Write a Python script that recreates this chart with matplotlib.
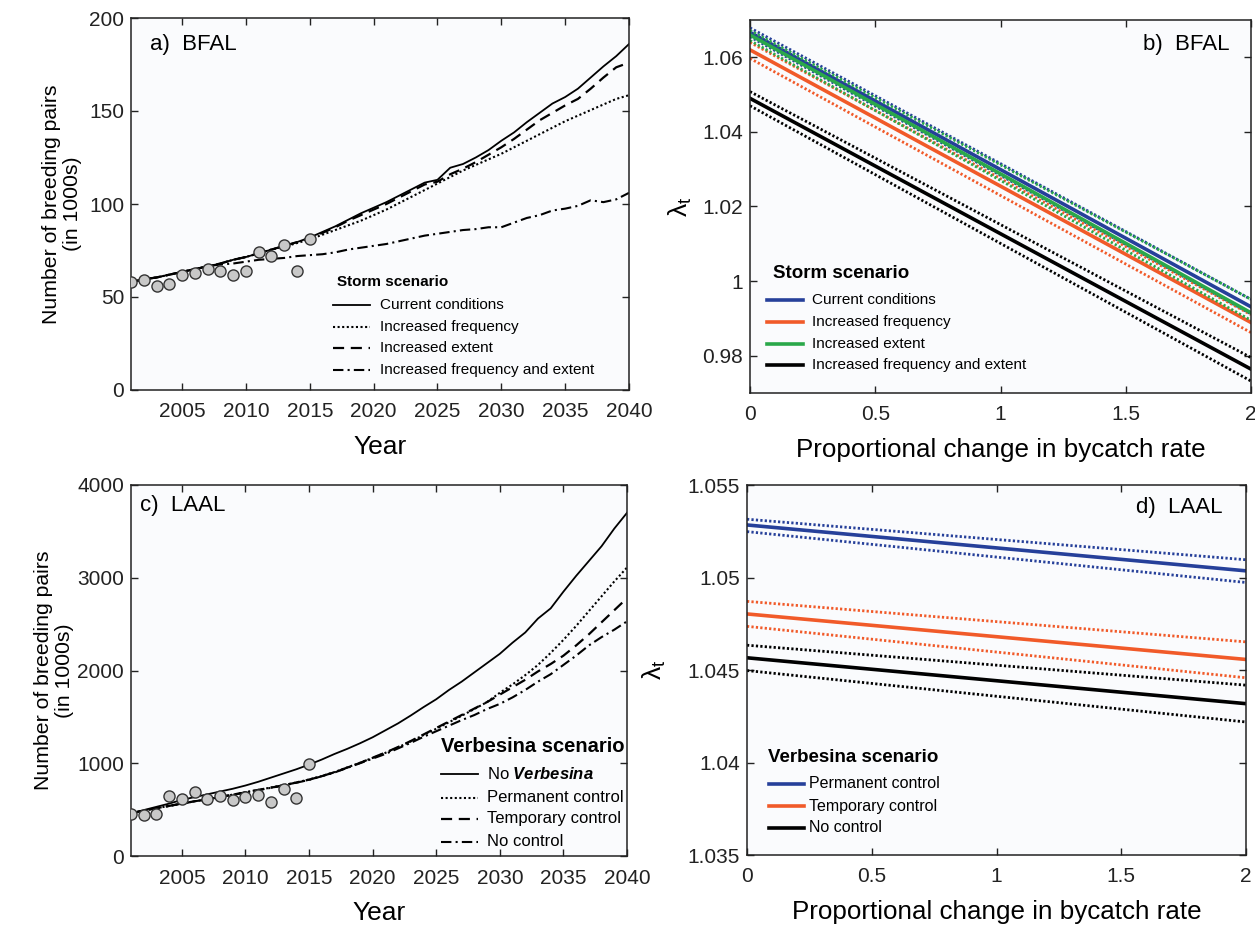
import numpy as np
import matplotlib
matplotlib.use("Agg")
import matplotlib.pyplot as plt
from matplotlib.ticker import FuncFormatter
from matplotlib.lines import Line2D

plt.rcParams['font.family'] = ['Liberation Sans', 'DejaVu Sans']
plt.rcParams['mathtext.fontset'] = 'custom'
plt.rcParams['mathtext.rm'] = 'Liberation Sans'
plt.rcParams['mathtext.it'] = 'Liberation Sans:italic'
plt.rcParams['mathtext.bf'] = 'Liberation Sans:bold'
plt.rcParams['mathtext.bfit'] = 'Liberation Sans:italic:bold'

# ---------------- data ----------------
years = list(range(2001, 2041))
obs_years = list(range(2001, 2016))

# Panel a: BFAL breeding pairs (1000s)
bfal_obs = [58, 59, 56, 57, 62, 63, 65, 64, 62, 64, 74, 72, 78, 64, 81]
bfal_current = [58, 59.5, 60.5, 62, 63.5, 65, 66.5, 68, 70, 71.5, 73.5, 75.5, 77.5, 79.5, 82,
                85, 88, 91.5, 95, 98, 101, 104.5, 108, 111.5, 113, 119.5, 121.5, 125, 129, 134,
                138.5, 144, 149, 154, 157.5, 162, 168, 174, 179.5, 186]
bfal_freq = [58, 59.5, 60.5, 62, 63.5, 65, 66.5, 68, 70, 71.5, 73.5, 75.5, 77, 79, 81,
             83.5, 86, 88.5, 91, 94, 97, 100.5, 104, 107.5, 111, 114.5, 118, 121, 124, 127,
             130.5, 134, 137.5, 141, 144.5, 147.5, 150.5, 153.5, 156.5, 158.5]
bfal_extent = [58, 59.5, 60.5, 62, 63.5, 65, 66.5, 68, 70, 71.5, 73.5, 75.5, 77.5, 79.5, 81.5,
               84.5, 87.5, 91, 94, 97, 100, 103.5, 107, 110.5, 112, 116, 119, 122.5, 126.5, 130.5,
               135, 140, 145, 149, 153, 156.5, 162, 168, 173.5, 176]
bfal_freq_ext = [58, 59.5, 60.5, 62, 63.5, 65, 66.5, 67.5, 68, 69, 70, 70.5, 71, 72, 72.5,
                 73, 74, 75.5, 76.5, 77.5, 78.5, 80, 81.5, 83, 84, 85, 86, 86.5, 87.5, 87.5,
                 90, 92.5, 94, 96.5, 97.5, 99, 102, 101, 102.5, 106]

# Panel c: LAAL breeding pairs (1000s)
laal_obs = [455, 441, 455, 642, 610, 685, 610, 648, 602, 634, 663, 584, 717, 620, 997]
laal_noverb = [460, 495, 530, 565, 605, 635, 665, 695, 725, 760, 800, 845, 890, 935, 985,
               1040, 1100, 1155, 1215, 1280, 1355, 1430, 1515, 1605, 1690, 1790, 1880, 1980, 2080, 2180,
               2300, 2410, 2560, 2670, 2850, 3020, 3180, 3340, 3530, 3700]
laal_perm = [460, 490, 515, 540, 565, 590, 612, 637, 662, 688, 713, 738, 764, 793, 825,
             862, 905, 955, 1005, 1058, 1112, 1172, 1236, 1304, 1372, 1442, 1512, 1585, 1660, 1760,
             1850, 1950, 2060, 2190, 2330, 2480, 2640, 2800, 2960, 3110]
laal_temp = [460, 490, 515, 540, 565, 590, 611, 636, 661, 686, 712, 737, 762, 792, 823,
             861, 903, 953, 1003, 1060, 1115, 1175, 1240, 1310, 1380, 1450, 1520, 1590, 1660, 1740,
             1820, 1900, 1990, 2070, 2160, 2270, 2390, 2520, 2650, 2780]
laal_noctrl = [460, 490, 515, 540, 565, 590, 610, 635, 660, 685, 710, 735, 760, 790, 820,
               860, 900, 950, 1000, 1050, 1100, 1160, 1220, 1285, 1345, 1405, 1465, 1520, 1585, 1640,
               1710, 1790, 1880, 1960, 2060, 2160, 2270, 2360, 2440, 2530]

# Panels b, d: lambda_t vs proportional change in bycatch rate (values at x = 0 and x = 2)
bycatch_x = [0, 2]
# BFAL: mean, lower CI, upper CI
bfal_lam_current = [1.0667, 0.9931]
bfal_lam_current_lo = [1.0655, 0.9912]
bfal_lam_current_hi = [1.0679, 0.9951]
bfal_lam_freq = [1.0620, 0.9889]
bfal_lam_freq_lo = [1.0597, 0.9862]
bfal_lam_freq_hi = [1.0640, 0.9910]
bfal_lam_extent = [1.0660, 0.9915]
bfal_lam_extent_lo = [1.0645, 0.9895]
bfal_lam_extent_hi = [1.0672, 0.9951]
bfal_lam_freq_ext = [1.0490, 0.9764]
bfal_lam_freq_ext_lo = [1.0470, 0.9732]
bfal_lam_freq_ext_hi = [1.0508, 0.9795]
# LAAL
laal_lam_perm = [1.05284, 1.05036]
laal_lam_perm_lo = [1.05248, 1.04973]
laal_lam_perm_hi = [1.05315, 1.05096]
laal_lam_temp = [1.04803, 1.04557]
laal_lam_temp_lo = [1.04736, 1.04458]
laal_lam_temp_hi = [1.04871, 1.04652]
laal_lam_noctrl = [1.04566, 1.04318]
laal_lam_noctrl_lo = [1.04497, 1.04219]
laal_lam_noctrl_hi = [1.04634, 1.04418]

storm_labels = ['Current conditions', 'Increased frequency', 'Increased extent',
                'Increased frequency and extent']
verb_labels_c = [r'No $\mathbfit{Verbesina}$', 'Permanent control', 'Temporary control', 'No control']
verb_labels_d = ['Permanent control', 'Temporary control', 'No control']

BLUE = '#26409a'
ORANGE = '#f15a29'
GREEN = '#2aa84a'
BLACK = '#000000'
AXBG = '#fafbfd'

LS_SOLID = '-'
LS_DOT = (0, (1, 1.2))
LS_DASH = (0, (5, 3))
LS_DASHDOT = (0, (5, 2, 1, 2))
LS_CI = (0, (0.8, 0.8))

fig = plt.figure(figsize=(12.55, 9.26), dpi=100)
W, H = 1255, 926


def axes_px(l, r, t, b):
    ax = fig.add_axes([l / W, 1 - b / H, (r - l) / W, (b - t) / H])
    ax._px = (l, r, t, b)
    return ax


def px2ax(ax, x, y):
    l, r, t, b = ax._px
    return (x - l) / (r - l), (b - y) / (b - t)


def style(ax, tick_fs):
    ax.set_facecolor(AXBG)
    for s in ax.spines.values():
        s.set_linewidth(1.1)
        s.set_color('#222222')
    ax.tick_params(direction='in', top=True, right=True, length=5, width=1,
                   labelsize=tick_fs, colors='#222222')
    ax.tick_params(axis='x', pad=9)
    ax.tick_params(axis='y', pad=5)
    ax.yaxis.set_major_formatter(FuncFormatter(lambda v, p: '%g' % v))
    ax.xaxis.set_major_formatter(FuncFormatter(lambda v, p: '%g' % v))


def manual_legend(ax, title, title_fs, title_x, title_y, labels, styles, fs,
                  hx0, hx1, tx, ys):
    x, y = px2ax(ax, title_x, title_y)
    ax.text(x, y, title, transform=ax.transAxes, fontsize=title_fs, fontweight='bold',
            ha='left', va='center')
    for lab, st, yy in zip(labels, styles, ys):
        x0, y0 = px2ax(ax, hx0, yy)
        x1, _ = px2ax(ax, hx1, yy)
        xt, _ = px2ax(ax, tx, yy)
        ax.add_line(Line2D([x0, x1], [y0, y0], transform=ax.transAxes, **st))
        ax.text(xt, y0, lab, transform=ax.transAxes, fontsize=fs, ha='left', va='center')


# ---------- panel a ----------
axa = axes_px(131, 629, 18, 390)
style(axa, 15)
sty_a = [dict(color='black', lw=1.3, ls=LS_SOLID),
         dict(color='black', lw=1.5, ls=LS_DOT),
         dict(color='black', lw=1.6, ls=LS_DASH),
         dict(color='black', lw=1.5, ls=LS_DASHDOT)]
for ser, st in zip([bfal_current, bfal_freq, bfal_extent, bfal_freq_ext], sty_a):
    axa.plot(years, ser, **st)
axa.plot(obs_years, bfal_obs, ls='none', marker='o', ms=8, mfc='#c8c8c8', mec='#333333',
         mew=1.0, zorder=5)
axa.set_xlim(2001, 2040)
axa.set_ylim(0, 200)
axa.set_xticks([2005, 2010, 2015, 2020, 2025, 2030, 2035, 2040])
axa.set_yticks([0, 50, 100, 150, 200])
axa.set_xlabel('Year', fontsize=19, labelpad=10)
axa.set_ylabel('Number of breeding pairs\n(in 1000s)', fontsize=15.3, labelpad=5,
               linespacing=1.15)
axa.text(0.038, 0.93, 'a)  BFAL', transform=axa.transAxes, fontsize=16, va='center', ha='left')
manual_legend(axa, 'Storm scenario', 11, 337, 282, storm_labels, sty_a, 11,
              333, 370, 380, [305, 327, 348, 370])

# ---------- panel b ----------
axb = axes_px(750, 1251, 20, 393)
style(axb, 15)
b_series = [(bfal_lam_current, bfal_lam_current_lo, bfal_lam_current_hi, BLUE),
            (bfal_lam_freq, bfal_lam_freq_lo, bfal_lam_freq_hi, ORANGE),
            (bfal_lam_extent, bfal_lam_extent_lo, bfal_lam_extent_hi, GREEN),
            (bfal_lam_freq_ext, bfal_lam_freq_ext_lo, bfal_lam_freq_ext_hi, BLACK)]
for mean, lo, hi, col in b_series:
    axb.plot(bycatch_x, lo, color=col, lw=2.0, ls=LS_CI)
    axb.plot(bycatch_x, hi, color=col, lw=2.0, ls=LS_CI)
    axb.plot(bycatch_x, mean, color=col, lw=2.6)
axb.set_xlim(0, 2)
axb.set_ylim(0.97, 1.07)
axb.set_xticks([0, 0.5, 1, 1.5, 2])
axb.set_yticks([0.98, 1.0, 1.02, 1.04, 1.06])
axb.set_xlabel('Proportional change in bycatch rate', fontsize=18.7, labelpad=10)
axb.set_ylabel(r'$\mathrm{\lambda}_\mathrm{t}$', fontsize=19, labelpad=6)
axb.text(0.958, 0.935, 'b)  BFAL', transform=axb.transAxes, fontsize=16, va='center', ha='right')
manual_legend(axb, 'Storm scenario', 13.5, 773, 273, storm_labels,
              [dict(color=c[3], lw=2.6) for c in b_series], 11,
              767, 803, 812, [300, 322, 344, 365])

# ---------- panel c ----------
axc = axes_px(131, 627, 485, 856)
style(axc, 15)
for ser, st in zip([laal_noverb, laal_perm, laal_temp, laal_noctrl], sty_a):
    axc.plot(years, ser, **st)
axc.plot(obs_years, laal_obs, ls='none', marker='o', ms=8, mfc='#c8c8c8', mec='#333333',
         mew=1.0, zorder=5)
axc.set_xlim(2001, 2040)
axc.set_ylim(0, 4000)
axc.set_xticks([2005, 2010, 2015, 2020, 2025, 2030, 2035, 2040])
axc.set_yticks([0, 1000, 2000, 3000, 4000])
axc.set_xlabel('Year', fontsize=19, labelpad=10)
axc.set_ylabel('Number of breeding pairs\n(in 1000s)', fontsize=15.3, labelpad=2,
               linespacing=1.15)
axc.text(0.018, 0.946, 'c)  LAAL', transform=axc.transAxes, fontsize=16, va='center', ha='left')
manual_legend(axc, 'Verbesina scenario', 14.5, 441, 747, verb_labels_c, sty_a, 12,
              441, 478, 487, [774, 798, 819, 842])

# ---------- panel d ----------
axd = axes_px(747, 1246, 485, 855)
style(axd, 15)
d_series = [(laal_lam_perm, laal_lam_perm_lo, laal_lam_perm_hi, BLUE),
            (laal_lam_temp, laal_lam_temp_lo, laal_lam_temp_hi, ORANGE),
            (laal_lam_noctrl, laal_lam_noctrl_lo, laal_lam_noctrl_hi, BLACK)]
for mean, lo, hi, col in d_series:
    axd.plot(bycatch_x, lo, color=col, lw=2.0, ls=LS_CI)
    axd.plot(bycatch_x, hi, color=col, lw=2.0, ls=LS_CI)
    axd.plot(bycatch_x, mean, color=col, lw=2.6)
axd.set_xlim(0, 2)
axd.set_ylim(1.035, 1.055)
axd.set_xticks([0, 0.5, 1, 1.5, 2])
axd.set_yticks([1.035, 1.04, 1.045, 1.05, 1.055])
axd.set_xlabel('Proportional change in bycatch rate', fontsize=18.7, labelpad=10)
axd.set_ylabel(r'$\mathrm{\lambda}_\mathrm{t}$', fontsize=19, labelpad=14)
axd.text(0.952, 0.94, 'd)  LAAL', transform=axd.transAxes, fontsize=16, va='center', ha='right')
manual_legend(axd, 'Verbesina scenario', 13.5, 768, 757, verb_labels_d,
              [dict(color=c[3], lw=2.6) for c in d_series], 11.5,
              769, 804, 809, [784, 806, 828])

fig.savefig('out.png', dpi=100, facecolor='white')
